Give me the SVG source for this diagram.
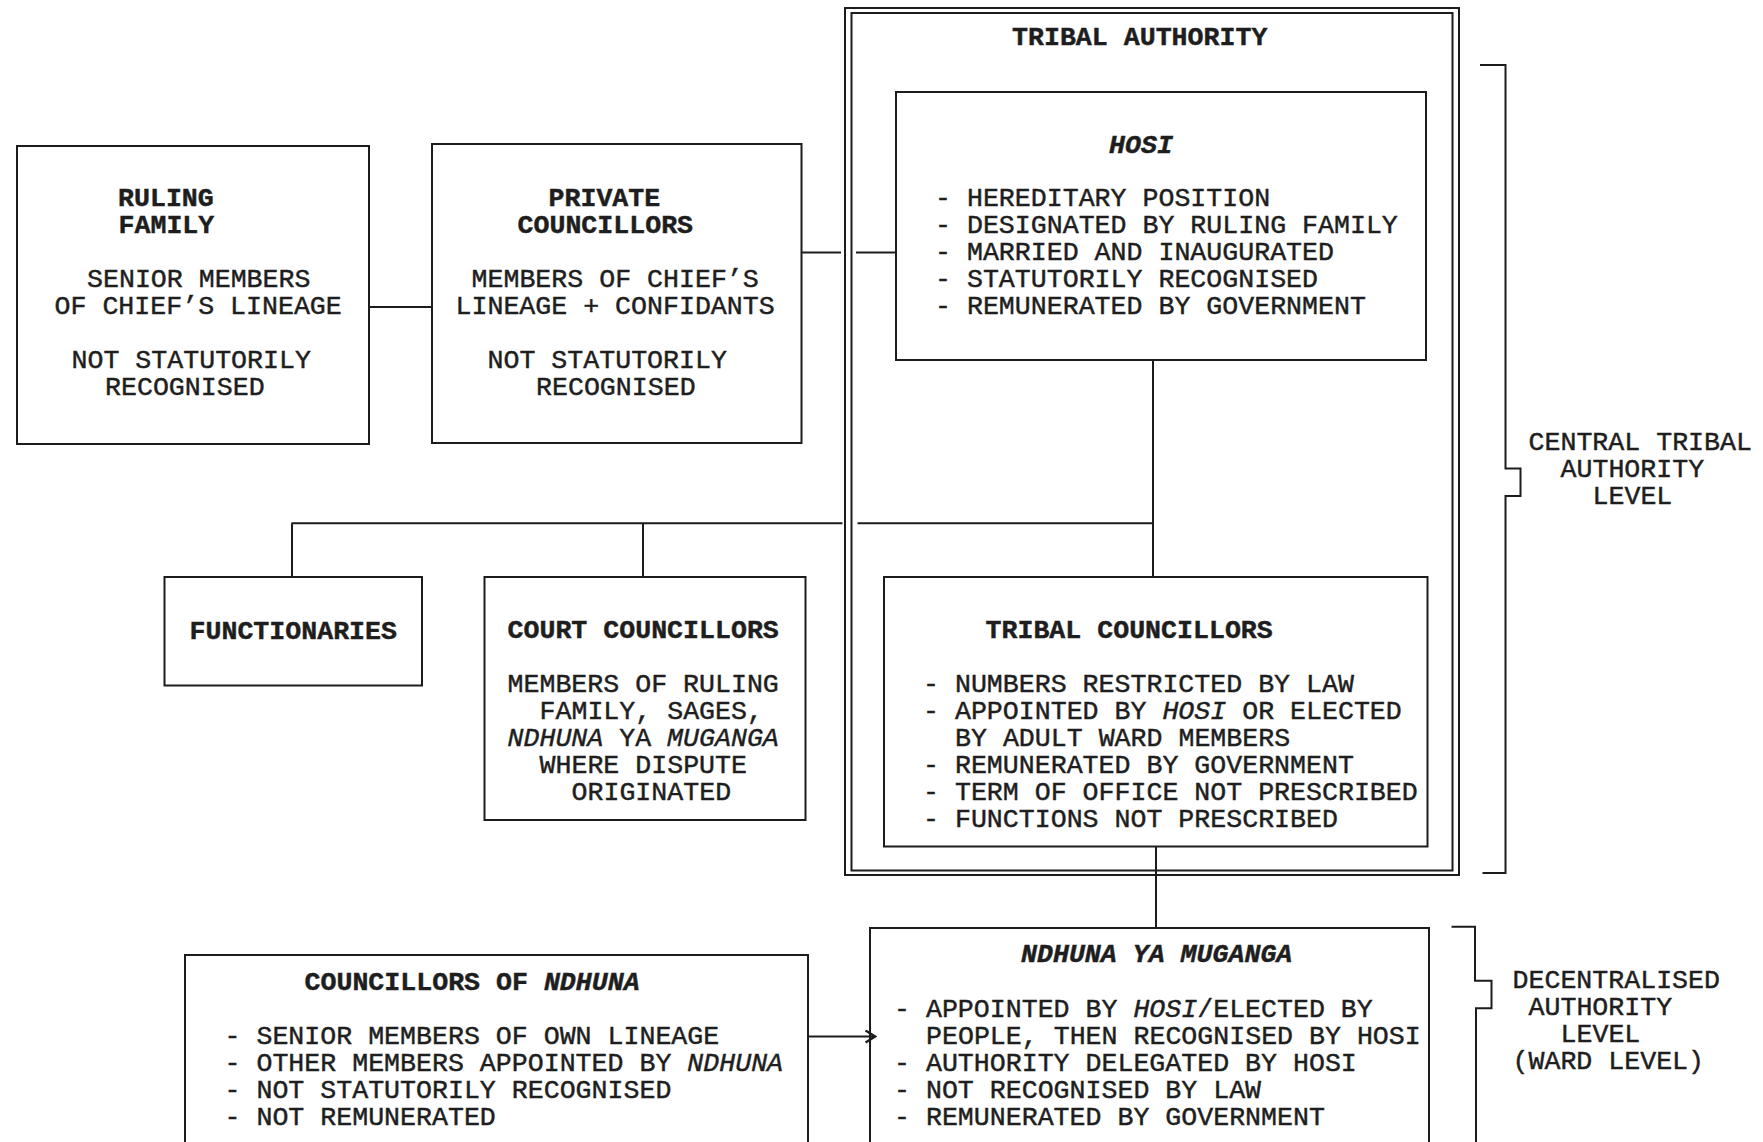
<svg xmlns="http://www.w3.org/2000/svg" width="1763" height="1142" viewBox="0 0 1763 1142">
<style>
  .box{fill:none;stroke:#1c1c1c;stroke-width:2}
  .ln{fill:none;stroke:#1c1c1c;stroke-width:2}
  text{font-family:"Liberation Mono","Courier New",monospace;font-size:26.6px;fill:#1e1e1e;stroke:#1e1e1e;stroke-width:0.45}
  .b{font-weight:bold}
  .i{font-style:italic}
</style>
<defs>
  <marker id="chev" markerUnits="userSpaceOnUse" viewBox="0 0 12 14" refX="10.5" refY="7" markerWidth="12" markerHeight="14" orient="auto">
    <path d="M1,1 L10.5,7 L1,13" fill="none" stroke="#1c1c1c" stroke-width="2.4"/>
  </marker>
</defs>
<rect width="1763" height="1142" fill="#ffffff"/>

<g id="tribal-authority">
  <rect class="box" x="845" y="8" width="614" height="867"/>
  <rect class="box" x="851.5" y="13" width="601" height="857.5"/>
  <text class="b" x="1012" y="45">TRIBAL AUTHORITY</text>
</g>

<g id="ruling-family">
  <rect class="box" x="17" y="146" width="352" height="298"/>
  <text class="b" x="118" y="206">RULING</text>
  <text class="b" x="118.5" y="233">FAMILY</text>
  <text x="87" y="287">SENIOR MEMBERS</text>
  <text x="54.5" y="314">OF CHIEF’S LINEAGE</text>
  <text x="71.5" y="368">NOT STATUTORILY</text>
  <text x="105" y="395">RECOGNISED</text>
</g>

<g id="private-councillors">
  <rect class="box" x="432" y="144" width="369.5" height="299"/>
  <text class="b" x="548.5" y="206">PRIVATE</text>
  <text class="b" x="517.5" y="233">COUNCILLORS</text>
  <text x="471.5" y="287">MEMBERS OF CHIEF’S</text>
  <text x="455.5" y="314">LINEAGE + CONFIDANTS</text>
  <text x="487.5" y="368">NOT STATUTORILY</text>
  <text x="536" y="395">RECOGNISED</text>
</g>

<g id="hosi">
  <rect class="box" x="896" y="92" width="530" height="268"/>
  <text class="b i" x="1109" y="153">HOSI</text>
  <text x="935" y="206">- HEREDITARY POSITION</text>
  <text x="935" y="233">- DESIGNATED BY RULING FAMILY</text>
  <text x="935" y="260">- MARRIED AND INAUGURATED</text>
  <text x="935" y="287">- STATUTORILY RECOGNISED</text>
  <text x="935" y="314">- REMUNERATED BY GOVERNMENT</text>
</g>

<g id="functionaries">
  <rect class="box" x="164.5" y="577" width="257.5" height="108.5"/>
  <text class="b" x="189.5" y="639">FUNCTIONARIES</text>
</g>

<g id="court-councillors">
  <rect class="box" x="484.5" y="577" width="321" height="243"/>
  <text class="b" x="507.5" y="638">COURT COUNCILLORS</text>
  <text x="507.5" y="692">MEMBERS OF RULING</text>
  <text x="539.5" y="719">FAMILY, SAGES,</text>
  <text x="507.5" y="746"><tspan class="i">NDHUNA</tspan> YA <tspan class="i">MUGANGA</tspan></text>
  <text x="539.5" y="773">WHERE DISPUTE</text>
  <text x="571.5" y="800">ORIGINATED</text>
</g>

<g id="tribal-councillors">
  <rect class="box" x="884" y="577" width="543.5" height="269.5"/>
  <text class="b" x="985.5" y="638">TRIBAL COUNCILLORS</text>
  <text x="923" y="692">- NUMBERS RESTRICTED BY LAW</text>
  <text x="923" y="719">- APPOINTED BY <tspan class="i">HOSI</tspan> OR ELECTED</text>
  <text x="955" y="746">BY ADULT WARD MEMBERS</text>
  <text x="923" y="773">- REMUNERATED BY GOVERNMENT</text>
  <text x="923" y="800">- TERM OF OFFICE NOT PRESCRIBED</text>
  <text x="923" y="827">- FUNCTIONS NOT PRESCRIBED</text>
</g>

<g id="councillors-of-ndhuna">
  <rect class="box" x="185" y="955" width="623" height="200"/>
  <text class="b" x="304.5" y="990">COUNCILLORS OF <tspan class="i">NDHUNA</tspan></text>
  <text x="224.5" y="1044">- SENIOR MEMBERS OF OWN LINEAGE</text>
  <text x="224.5" y="1071">- OTHER MEMBERS APPOINTED BY <tspan class="i">NDHUNA</tspan></text>
  <text x="224.5" y="1098">- NOT STATUTORILY RECOGNISED</text>
  <text x="224.5" y="1125">- NOT REMUNERATED</text>
</g>

<g id="ndhuna-ya-muganga">
  <rect class="box" x="870" y="928" width="559" height="230"/>
  <text class="b i" x="1021" y="962">NDHUNA YA MUGANGA</text>
  <text x="894" y="1017">- APPOINTED BY <tspan class="i">HOSI</tspan>/ELECTED BY</text>
  <text x="926" y="1044">PEOPLE, THEN RECOGNISED BY HOSI</text>
  <text x="894" y="1071">- AUTHORITY DELEGATED BY HOSI</text>
  <text x="894" y="1098">- NOT RECOGNISED BY LAW</text>
  <text x="894" y="1125">- REMUNERATED BY GOVERNMENT</text>
</g>

<g id="level-central">
  <path class="ln" d="M1480,65 H1505.5 V468.5 H1520.5 V496 H1505.5 V873 H1482.5"/>
  <text x="1528.5" y="450">CENTRAL TRIBAL</text>
  <text x="1560.5" y="477">AUTHORITY</text>
  <text x="1592.5" y="504">LEVEL</text>
</g>

<g id="level-decentralised">
  <path class="ln" d="M1451.5,926.7 H1475 V980.7 H1491.5 V1008.3 H1476 V1150"/>
  <text x="1512.5" y="988">DECENTRALISED</text>
  <text x="1528.5" y="1015">AUTHORITY</text>
  <text x="1560.5" y="1042">LEVEL</text>
  <text x="1512.5" y="1069">(WARD LEVEL)</text>
</g>

<g id="connectors">
  <path class="ln" d="M369,307 H432"/>
  <path class="ln" d="M801.5,252.5 H841 M856,252.5 H896"/>
  <path class="ln" d="M1153,360 V577"/>
  <path class="ln" d="M291.5,523.3 H842.5 M857.5,523.3 H1153"/>
  <path class="ln" d="M292,523.3 V577"/>
  <path class="ln" d="M643,523.3 V577"/>
  <path class="ln" d="M1156,846.5 V928"/>
  <path class="ln" d="M808,1036.5 H875" marker-end="url(#chev)"/>
</g>
</svg>
